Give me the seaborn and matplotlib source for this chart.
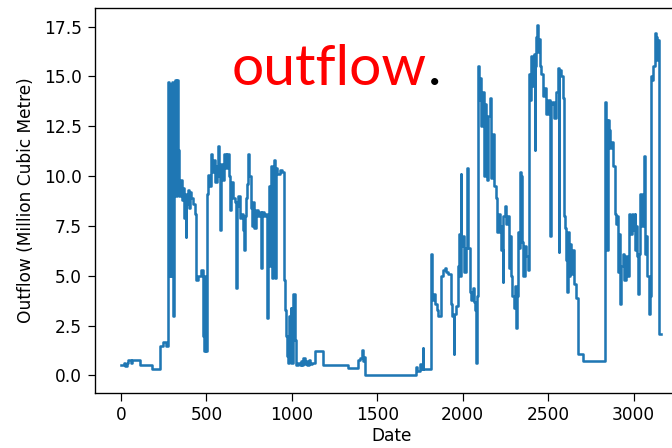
import matplotlib
matplotlib.use('Agg')
import matplotlib.pyplot as plt
import seaborn as sns

# outflow readings (day index, million cubic metre), held until next reading
day = [0, 15, 25, 35, 41, 60, 65, 111, 180, 228, 248, 265, 277, 283, 288, 293, 298, 304, 308, 316,
       322, 327, 335, 341, 348, 355, 362, 368, 372, 378, 382, 390, 398, 405, 412, 420, 433, 438, 452, 468,
       480, 487, 492, 497, 501, 508, 515, 525, 535, 545, 552, 560, 569, 575, 579, 584, 595, 605, 615, 622,
       630, 637, 645, 655, 666, 673, 678, 686, 694, 705, 714, 722, 727, 734, 740, 746, 752, 758, 766, 772,
       780, 793, 803, 815, 822, 827, 836, 845, 855, 860, 866, 871, 876, 881, 886, 890, 896, 900, 905, 915,
       930, 945, 955, 962, 968, 973, 978, 985, 993, 997, 1005, 1018, 1024, 1035, 1045, 1055, 1060, 1068, 1074, 1082,
       1090, 1100, 1108, 1120, 1134, 1183, 1329, 1387, 1400, 1408, 1415, 1421, 1430,
       1724, 1735, 1748, 1760, 1765, 1769, 1813, 1820, 1828, 1838, 1848, 1858, 1874, 1884, 1895, 1904, 1915, 1930,
       1938, 1946, 1951, 1962, 1970, 1978, 1984, 1987, 1992, 2000, 2010, 2018, 2026, 2031, 2040, 2050, 2058, 2066,
       2073, 2078, 2083,
       2089, 2095, 2100, 2108, 2115, 2122, 2128, 2135, 2142, 2150, 2157, 2165, 2172, 2178, 2185, 2192, 2200, 2210,
       2218, 2225, 2233, 2238, 2245, 2252, 2260, 2268, 2275, 2282, 2290, 2298, 2305, 2310, 2313, 2318, 2324, 2330,
       2336, 2342, 2348, 2355, 2362, 2370, 2380, 2387, 2393, 2400, 2408, 2415, 2420, 2424, 2430, 2436, 2441, 2447,
       2453, 2460, 2468, 2478, 2488, 2498, 2508, 2512, 2516, 2525, 2535, 2547, 2555, 2562, 2566, 2575, 2585, 2590,
       2595, 2600, 2605, 2609, 2614, 2620, 2626, 2634, 2642, 2650, 2664, 2673, 2703,
       2833, 2840, 2845, 2849, 2856, 2862, 2868, 2878, 2888, 2896, 2904, 2910, 2915, 2920, 2923, 2928, 2935, 2945,
       2955, 2962, 2970, 2978, 2988, 2996, 3005, 3009, 3016, 3022, 3028, 3034, 3040, 3050, 3058, 3063, 3068, 3073,
       3080, 3088, 3094, 3102, 3110, 3116, 3122, 3130, 3138, 3145, 3151, 3158]

outflow = [0.5, 0.6, 0.45, 0.6, 0.8, 0.6, 0.8, 0.5, 0.3, 1.5, 1.7, 1.5, 14.7, 5.0, 14.6, 5.0, 14.7, 3.0, 12.0, 14.8,
           9.0, 14.8, 11.3, 9.0, 9.8, 8.8, 9.4, 7.9, 9.1, 6.95, 8.6, 9.3, 8.4, 9.2, 8.9, 8.6, 8.1, 4.8, 5.0, 5.3,
           2.0, 1.25, 5.0, 1.25, 9.1, 10.05, 9.5, 11.1, 10.2, 10.8, 9.7, 10.5, 11.5, 10.0, 7.3, 10.6, 9.8, 11.1, 10.4, 11.1,
           10.0, 8.3, 9.7, 8.9, 8.7, 4.4, 8.5, 9.0, 7.9, 8.1, 7.3, 6.3, 8.0, 8.9, 9.6, 11.1, 10.0, 8.4, 7.5, 8.7,
           7.4, 8.3, 8.0, 8.2, 5.4, 8.2, 8.0, 8.1, 2.9, 7.8, 9.5, 5.5, 10.5, 9.6, 4.9, 10.2, 10.8, 4.9, 10.4, 10.1,
           10.3, 10.2, 4.8, 3.3, 2.0, 1.0, 0.6, 3.0, 3.4, 0.6, 4.1, 1.8, 0.5, 0.6, 0.5, 0.7, 0.5, 0.9, 0.55, 0.75,
           0.5, 0.8, 0.55, 0.6, 1.25, 0.5, 0.35, 0.8, 0.9, 1.3, 0.7, 0.95, 0.0,
           0.4, 0.2, 0.55, 0.3, 1.4, 0.3, 6.1, 3.8, 4.1, 3.6, 3.3, 3.0, 5.0, 5.3, 5.4, 5.2, 5.1, 3.6,
           3.0, 1.1, 3.1, 3.5, 5.5, 7.1, 5.0, 10.1, 6.5, 7.0, 5.2, 6.4, 10.4, 6.4, 4.2, 3.8, 4.4, 3.7,
           3.3, 0.6, 4.0,
           15.5, 13.8, 14.9, 12.5, 14.2, 10.0, 13.6, 11.6, 9.8, 13.0, 13.9, 9.9, 10.5, 12.1, 9.5, 8.9, 7.2, 8.1,
           7.5, 6.3, 4.7, 8.0, 8.5, 7.6, 8.0, 5.4, 7.0, 5.0, 4.0, 3.4, 4.5, 3.0, 2.4, 4.0, 7.2, 6.4,
           10.2, 10.0, 6.7, 5.0, 6.5, 6.0, 5.3, 15.1, 13.8, 16.0, 14.5, 16.1, 11.3, 15.5, 17.0, 17.6, 16.2, 16.9,
           15.5, 15.1, 14.0, 14.4, 13.1, 13.8, 13.3, 7.0, 13.6, 13.7, 12.9, 14.2, 15.4, 6.2, 15.3, 15.0, 13.9, 12.0,
           8.0, 7.4, 5.8, 4.2, 7.2, 5.0, 6.6, 5.1, 6.3, 4.6, 3.9, 1.1, 0.75,
           13.7, 12.8, 6.3, 12.8, 12.3, 11.4, 11.7, 10.5, 8.1, 7.6, 8.0, 5.2, 7.1, 6.0, 3.6, 5.5, 6.1, 4.8,
           6.0, 5.0, 8.1, 7.1, 8.1, 7.3, 8.1, 6.3, 7.5, 6.0, 4.1, 6.1, 9.1, 7.5, 9.1, 11.0, 6.1, 7.0,
           5.0, 3.1, 4.0, 15.0, 14.8, 15.5, 17.2, 17.0, 15.8, 16.8, 2.1, 2.1]

x_ticks = [0, 500, 1000, 1500, 2000, 2500, 3000]
y_ticks = [0.0, 2.5, 5.0, 7.5, 10.0, 12.5, 15.0, 17.5]

plt.rcParams['font.size'] = 11.3
plt.rcParams['xtick.major.size'] = 5
plt.rcParams['ytick.major.size'] = 5
plt.rcParams['axes.linewidth'] = 0.9

fig = plt.figure(figsize=(672 / 108, 448 / 108), dpi=108)
# axes runs past the right edge, like the cropped screenshot
ax = fig.add_axes([95 / 672, 55 / 448, 593 / 672, 385 / 448])

sns.lineplot(x=day, y=outflow, ax=ax, drawstyle='steps-post', estimator=None,
             sort=False, color='#1f77b4', linewidth=1.7)

ax.set_xlim(-152, 3318)
ax.set_ylim(-0.88, 18.43)
ax.set_xticks(x_ticks)
ax.set_yticks(y_ticks)
ax.set_yticklabels([f'{v:.1f}' for v in y_ticks])
ax.set_xlabel('Date', labelpad=2)
ax.set_ylabel('Outflow (Million Cubic Metre)', labelpad=6)

# overlay caption
fig.text(427 / 672, 1 - 85 / 448, 'outflow', color='red', fontsize=38,
         family='Lato', ha='right', va='baseline')
fig.text(428 / 672, 1 - 85 / 448, '.', color='black', fontsize=38,
         family='Lato', ha='left', va='baseline')

fig.savefig('out.png', dpi=108)
